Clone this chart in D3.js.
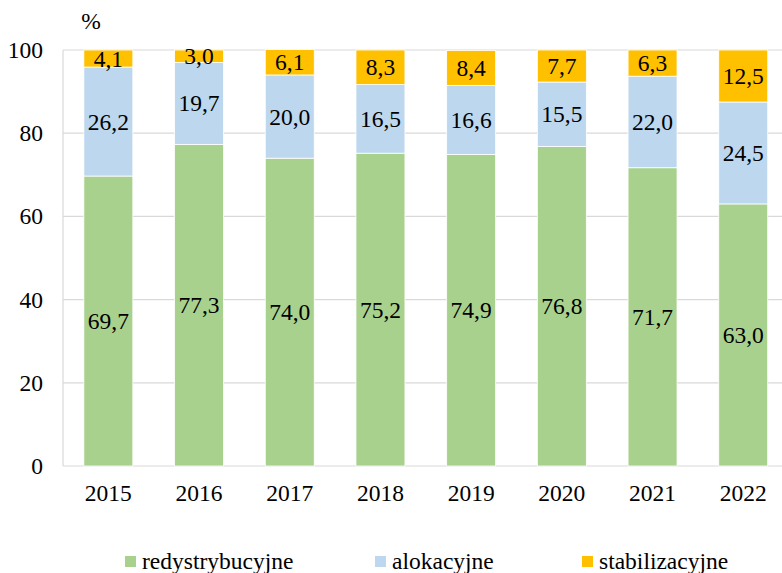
<!DOCTYPE html>
<html><head><meta charset="utf-8">
<script src="https://cdn.jsdelivr.net/npm/d3@7"></script>
<style>body{margin:0;background:#fff;}svg{display:block;}</style>
</head><body><svg id="c" width="782" height="573" font-family="'Liberation Serif', 'Times New Roman', Tinos, 'DejaVu Serif', serif"></svg>
<script>
const years = ["2015","2016","2017","2018","2019","2020","2021","2022"];
const redystrybucyjne = [69.7,77.3,74.0,75.2,74.9,76.8,71.7,63.0];
const alokacyjne = [26.2,19.7,20.0,16.5,16.6,15.5,22.0,24.5];
const stabilizacyjne = [4.1,3.0,6.1,8.3,8.4,7.7,6.3,12.5];
const seriesNames = ["redystrybucyjne","alokacyjne","stabilizacyjne"];
const colors = ["#A9D18E","#BDD7EE","#FFC000"];
const yTicks = [0,20,40,60,80,100];

const svg = d3.select("#c");
const plotLeft = 63, plotTop = 50, plotBottom = 466, step = 90.7;
const x = d3.scaleBand().domain(years).range([plotLeft, plotLeft + step*years.length]).paddingInner(0.46).paddingOuter(0.23);
const y = d3.scaleLinear().domain([0,100]).range([plotBottom, plotTop]);
const fs = 23.5;

// gridlines
svg.append("g").selectAll("line").data(yTicks).join("line")
  .attr("x1", plotLeft).attr("x2", 782).attr("y1", d=>y(d)).attr("y2", d=>y(d))
  .attr("stroke", "#d9d9d9").attr("stroke-width", 1.2);
svg.append("line").attr("x1", plotLeft).attr("x2", plotLeft).attr("y1", plotTop).attr("y2", plotBottom)
  .attr("stroke", "#d9d9d9").attr("stroke-width", 1.2);

// y tick labels
svg.append("g").selectAll("text").data(yTicks).join("text")
  .attr("x", 43).attr("y", d=>y(d)).attr("dy","0.34em").attr("text-anchor","end")
  .attr("font-size", fs).attr("fill","#000").text(d=>d);
svg.append("text").attr("x", 91).attr("y", 29).attr("text-anchor","middle").attr("font-size", fs).attr("fill","#000").text("%");

// stacked data
const rows = years.map((yr,i)=>({year:yr, redystrybucyjne:redystrybucyjne[i], alokacyjne:alokacyjne[i], stabilizacyjne:stabilizacyjne[i]}));
const stack = d3.stack().keys(seriesNames)(rows);
const fmt = v => v.toFixed(1).replace(".", ",");

stack.forEach((s, si) => {
  const g = svg.append("g");
  g.selectAll("rect").data(s).join("rect")
    .attr("x", d=>x(d.data.year)).attr("width", x.bandwidth())
    .attr("y", d=>y(d[1])).attr("height", d=>y(d[0])-y(d[1]))
    .attr("fill", colors[si]).attr("stroke","#fff").attr("stroke-width",0.8);
  g.selectAll("text").data(s).join("text")
    .attr("x", d=>x(d.data.year)+x.bandwidth()/2)
    .attr("y", d=>(y(d[0])+y(d[1]))/2).attr("dy","0.34em")
    .attr("text-anchor","middle").attr("font-size", fs).attr("fill","#000")
    .text(d=>fmt(d.data[s.key]));
});

// x labels
svg.append("g").selectAll("text").data(years).join("text")
  .attr("x", d=>x(d)+x.bandwidth()/2).attr("y", 501).attr("text-anchor","middle")
  .attr("font-size", fs).attr("fill","#000").text(d=>d);

// legend
const legX = [125, 375, 582];
const lg = svg.append("g");
seriesNames.forEach((n,i)=>{
  lg.append("rect").attr("x", legX[i]).attr("y", 556).attr("width", 11).attr("height", 11).attr("fill", colors[i]);
  lg.append("text").attr("x", legX[i]+17).attr("y", 569).attr("font-size", fs).attr("fill","#000").text(n);
});
</script></body></html>
